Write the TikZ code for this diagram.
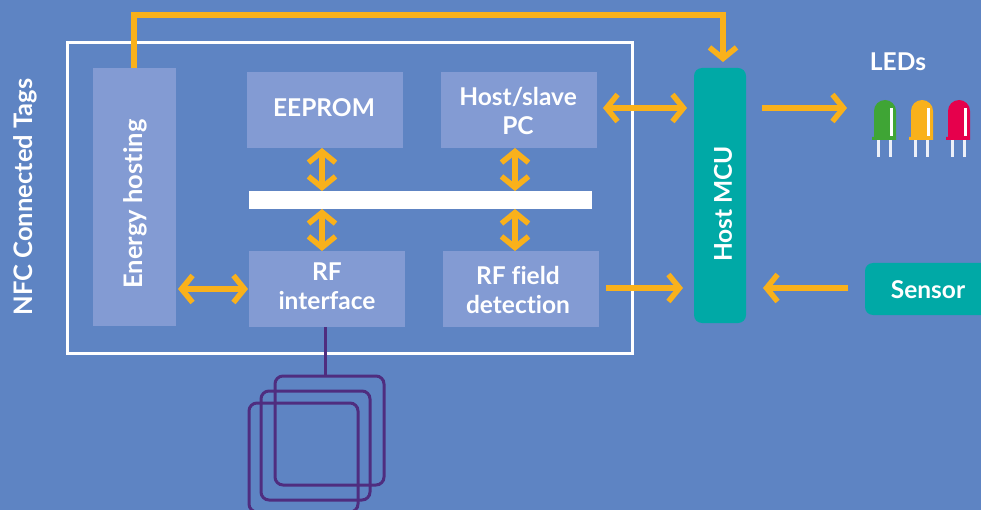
\documentclass[tikz,border=0pt]{standalone}
\usepackage{fontspec}
\setmainfont{Lato}[Ligatures=NoCommon]
\usetikzlibrary{arrows.meta}
\definecolor{bgc}{HTML}{5E84C3}
\definecolor{boxc}{HTML}{839BD3}
\definecolor{orangec}{HTML}{F9B11B}
\definecolor{tealc}{HTML}{00A9A6}
\definecolor{purplec}{HTML}{4F2D7F}
\definecolor{ledg}{HTML}{3FA535}
\definecolor{ledr}{HTML}{E6004C}
\tikzset{
  lbl/.style={text=white,font=\fontsize{24.5}{28.5}\selectfont\bfseries,align=center},
  lblbig/.style={text=white,font=\fontsize{25.5}{29}\selectfont\bfseries,align=center},
  block/.style={fill=boxc,inner sep=0pt,outer sep=0pt,anchor=north west},
  tealbox/.style={fill=tealc,rounded corners=8pt,inner sep=0pt,outer sep=0pt,anchor=north west},
  arr/.style={draw=orangec,line width=5.5pt,-{Straight Barb[length=11pt,width=27pt,line width=5.5pt]}},
  darr/.style={draw=orangec,line width=5.5pt,{Straight Barb[length=11pt,width=27pt,line width=5.5pt]}-{Straight Barb[length=11pt,width=27pt,line width=5.5pt]}},
  loop/.style={draw=purplec,line width=3pt,rounded corners=8pt,inner sep=0pt,outer sep=0pt,anchor=north west,minimum width=109pt,minimum height=109pt},
  pin/.style={draw=white!88!bgc,line width=3pt},
  shine/.style={draw=white,line width=3pt},
}
\newcommand{\ledbody}[2]{%
  \fill[#2] (#1,140) -- (#1,137) -- (#1+2,137) -- (#1+2,111) arc[start angle=180,end angle=0,radius=11pt] -- (#1+24,140) -- cycle;
  \draw[shine] (#1+19.5,108) -- (#1+19.5,136);
  \draw[pin] (#1+6,140) -- (#1+6,157);
  \draw[pin] (#1+18,140) -- (#1+18,157);
}
\begin{document}
\begin{tikzpicture}[x=1pt,y=-1pt]
\useasboundingbox (0,0) rectangle (981,510);
\fill[bgc] (0,0) rectangle (981,510);
\clip (0,0) rectangle (981,510);
\node[draw=white,line width=3pt,inner sep=0pt,outer sep=0pt,anchor=north west,minimum width=565pt,minimum height=310pt] (frame) at (67,43) {};
\node[block,minimum width=83pt,minimum height=258pt] (energy) at (93,68) {};
\node[lblbig,rotate=90] (energyl) at (135,204) {Energy hosting};
\node[block,minimum width=156pt,minimum height=76pt] (eeprom) at (247,72) {};
\node[lbl] (eeproml) at (324,108) {EEPROM};
\node[block,minimum width=156pt,minimum height=76pt] (host) at (441,72) {};
\node[lbl] (hostl) at (518,111) {Host/slave\\PC};
\node[fill=white,inner sep=0pt,outer sep=0pt,anchor=north west,minimum width=343pt,minimum height=18pt] (bus) at (249,191) {};
\node[block,minimum width=156pt,minimum height=76pt] (rfi) at (249,251) {};
\node[lbl] (rfil) at (327,286) {RF\\interface};
\node[block,minimum width=156pt,minimum height=76pt] (rfd) at (443,251) {};
\node[lbl] (rfdl) at (518,290) {RF field\\detection};
\node[tealbox,minimum width=52pt,minimum height=255pt] (mcu) at (694,68) {};
\node[lbl,rotate=90] (mcul) at (723,204) {Host MCU};
\node[tealbox,minimum width=130pt,minimum height=52pt] (sensor) at (865,263) {};
\node[lbl] (sensorl) at (928,290) {Sensor};
\node[lbl] (ledl) at (898,62) {LEDs};
\node[lblbig,rotate=90] (tags) at (25,197) {NFC Connected Tags};
% antenna
\node[loop] (a1) at (275,376) {};
\node[loop] (a2) at (261,391) {};
\node[loop] (a3) at (249,403) {};
\coordinate (st) at (325,327);
\draw[draw=purplec,line width=3pt] (st) -- (st |- a1.north);
% arrows
\coordinate (ledin) at (847,108);
\coordinate (topr) at (723,15);
\coordinate (topl) at (134,15);
\draw[arr] (134,68) -- (topl) -- (topr) -- (723,62);
\draw[darr] (178,289) -- (248,289);
\draw[darr] (603,108) -- (687,108);
\draw[darr] (322,148) -- (322,191);
\draw[darr] (322,209) -- (322,251);
\draw[darr] (515,148) -- (515,191);
\draw[darr] (515,209) -- (515,251);
\draw[arr] (606,288) -- (683,288);
\draw[arr] (848,288) -- (763,288);
\draw[arr] (762,108) -- (ledin);
% LEDs
\ledbody{872}{ledg}
\ledbody{909}{orangec}
\ledbody{946}{ledr}
\end{tikzpicture}
\end{document}
